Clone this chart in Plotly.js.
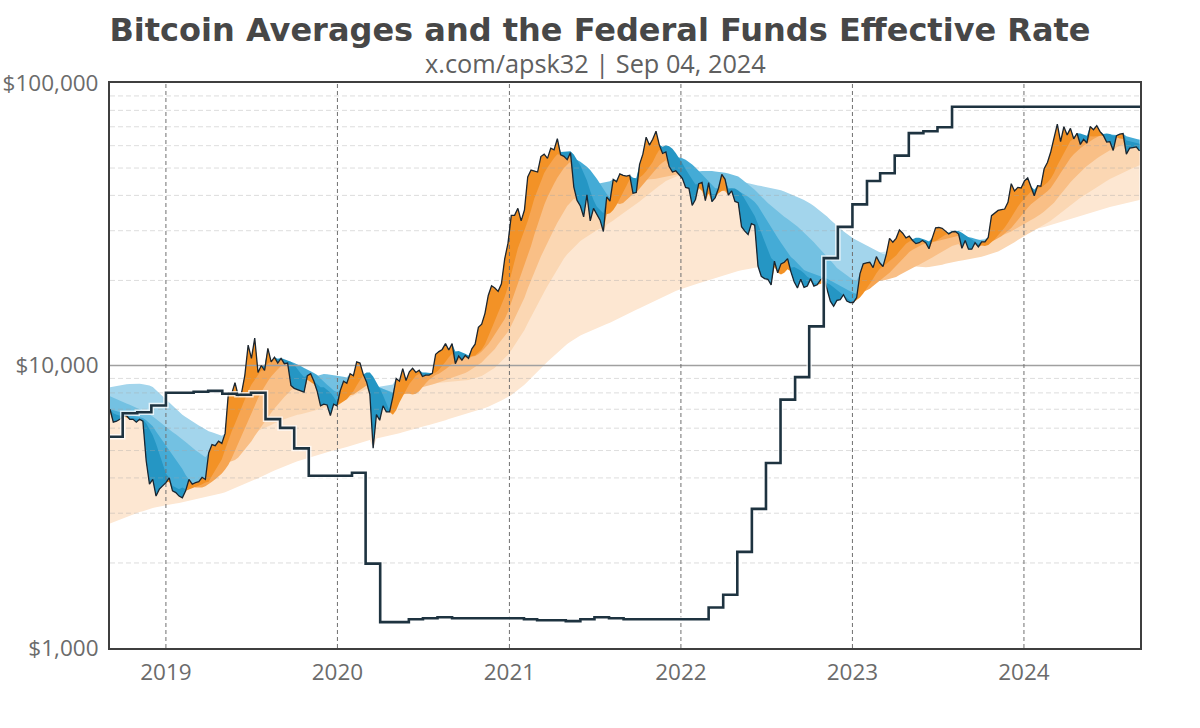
<!DOCTYPE html>
<html><head><meta charset="utf-8">
<script src="https://cdn.plot.ly/plotly-3.0.1.min.js"></script>
<style>html,body{margin:0;padding:0;background:#fff}#chart{width:1200px;height:728px}</style>
</head><body><div id="chart"></div>
<script>
// ---- Weekly samples (Tuesdays) starting 2018-09-04 ----
const START = Date.UTC(2018, 8, 4);

const price = [
 7000,6300,6350,6450, 6600,6650,6450,6450,6300, 6450,6350,4600,3800, 3950,3450,3650,3750,
 3850,4000,3600,3550,3450, 3400,3600,3950,3800, 3850,3880,4020,3950, 4900,5250,5200,5400,5300, 5750,8000,7950,8700, 7800,8000,9250,11800, 10600,12500,9450,10000,9600, 11500,10300,10700,10200, 10600,10150,10200,8500, 8300,8200,8150,8050,9200, 9350,8800,8100,7200, 7300,7250,6650,7300,7200,
 8150,8800,8650,9350, 9200,10300,10200,9300, 8750,7900,5100,6700,6400, 7200,6850,6850,7750, 9000,8800,9750,8850, 9500,9780,9450,9630,9140, 9250,9250,9380,10950, 11200,11400,11950,11350, 11950,10150,10800,10450,10850, 10600,11450,11900,13650, 14000,15300,17700,19150, 18800,18300,19450,23850,27100,
 34000,34000,36000,32500, 35500,46500,49200,48900, 48400,54900,56000,54100,58800, 58000,63500,55700,55000, 53500,56700,42900,38400, 36700,33600,40200,32500,36000, 34200,32700,29800,39500, 38200,45600,44700,47700,47100, 46800,47100,40700,41000, 51500,56000,64300,60300, 63200,67500,60400,56300,57000, 50600,48400,48900,47600,
 46000,42700,42400,36900, 38700,44000,44500,38300, 44400,38000,39300,42400,47500, 45600,40100,41500,38100, 37700,31000,29900,29100,31800, 31400,22500,20700,20300, 20200,19300,23400,21300, 22900,23200,23900,21500,19800, 18800,20200,18900,19100, 20300,19100,19300,20100, 20500,18500,16900,16200,17000, 17100,17800,16900,16700,
 16700,17400,21100,22900,23100, 23200,22200,24300,23100, 22400,24700,28200,27300, 28200,30200,29400,28300, 28700,27700,27000,27200,27700, 27200,25900,28300,30700, 30800,30600,29900,29200, 29700,29800,29200,26000,27700, 25800,25800,27200,26300, 27400,27400,28400,33900,34600, 35400,35600,35800,37800, 44000,41500,42700,42500,
 45000,46100,43100,39900,43300, 43100,49700,52300,57000, 63800,71500,62000,70000, 65500,69100,63400,66400,60600, 63200,61300,70100,68300, 70600,67300,65200,61800, 62000,57700,65100,65900,66200, 56000,58800,59100,59400, 57500
];

const ma50 = [
 6830,6770,6700,6640, 6580,6550,6530,6500,6480, 6450,6430,6250,5950, 5660,5280,4880,4500,
 4150,3880,3750,3700,3650, 3700,3650,3640,3680, 3700,3750,3800,3850, 3880,4070,4270,4470,4660, 5040,5440,5850,6220, 6670,7140,7630,8100, 8560,8920,9270,9630,10000, 10180,10310,10440,10570, 10630,10530,10430,10320, 10070,9700,9370,9110,8900, 8760,8590,8580,8380, 8370,8200,8020,7730,7410,
 7330,7450,7600,7850, 8100,8500,8900,9250, 9450,9450,9150,8750,8300, 7850,7350,6900,6700, 6950,7400,7800,8200, 8600,8900,9200,9350,9450, 9450,9400,9350,9450, 9650,9950,10300,10700, 11000,11200,11250,11150,11000, 10850,10800,10850,11100, 11400,11900,12600,13500, 14400,15300,16300,17500,19000,
 21000,23500,26000,28000, 30000,32500,35500,39000, 41800,45000,48000,50200,52300, 54300,56000,57000,57200, 57300,57300,55800,53500, 51000,48000,45200,41500,38500, 36500,35400,34600,34300, 34600,35500,37000,39000,41300, 43500,45500,46200,46000, 46300,47200,48700,50500, 52500,55500,58000,59500,60200, 59700,58500,56500,54300,
 52000,49500,47500,45300, 43700,42500,41500,40700, 40600,40500,40400,40700,41500, 42000,42300,42400,42300, 41600,40600,38800,37000,35500, 33800,31600,29500,27600, 25800,24000,22300,21300, 21000,21300,21900,22200,22300, 22000,21700,21200,20600, 20000,19600,19500,19500, 19600,19600,19300,18900,18500, 18100,17700,17300,17000,
 16900,17000,17400,18000,18700, 19500,20300,21200,22000, 22700,22900,23300,23900, 24500,25400,26300,27000, 27500,28000,28300,28300,28100, 27800,27500,27400,27600, 28000,28500,29000,29500, 29900,30000,29900,29500,29000, 28500,27900,27400,26900, 26600,26500,26700,27300,28000, 28900,29800,30800,32000, 33500,35000,36500,37800,
 39000,40300,41300,41900,42300, 42600,43400,44400,45800, 48000,51000,53700,56600, 59500,62300,64300,65700,66200, 65800,65000,64800,64600, 64700,65200,66000,66300, 66000,65000,64200,63600,63400, 62600,62200,61700,61200, 60900
];

const ma100 = [
 6990,6940,6880,6820, 6760,6730,6690,6650,6610, 6560,6520,6400,6250, 6090,5840,5620,5440,
 5260,5060,4870,4680,4480, 4300,4100,3920,3760, 3700,3700,3700,3740, 3800,3880,3960,4050,4150, 4280,4450,4700,5000, 5300,5600,5950,6350, 6800,7250,7650,8050,8450, 8800,9150,9450,9700, 9950,10150,10300,10300, 10200,10100,9950,9800,9700, 9550,9400,9250,9000, 8750,8550,8350,8150,8050,
 7950,7900,7850,7850, 7900,8050,8200,8350, 8500,8600,8550,8450,8350, 8250,8150,8050,8000, 7950,7900,7900,7950, 7950,7900,7950,8100,8400, 8650,8900,9100,9250, 9350,9500,9700,9900, 10150,10300,10450,10550,10650, 10700,10750,10800,10950, 11200,11500,11900,12350, 12900,13400,13950,14600,15500,
 16700,18100,19600,21000, 22500,24300,26500,29000, 31600,34200,37000,39500,42000, 44000,46200,48300,50000, 51400,52700,53300,53400, 52600,51700,50500,49200,47600, 45800,44000,42000,40500, 39200,38200,37500,37300,37600, 38500,39500,40500,41200, 42300,43800,45300,46800, 48000,49800,51200,52300,53300, 53800,54200,54400,54500,
 54200,53500,52600,51500, 50200,48800,47400,45900, 44700,43500,42400,41800,41500, 41400,41300,41400,41600, 41500,40900,40300,39600,38800, 37900,36700,35100,33800, 32400,30900,29400,28300, 27200,26100,25100,24200,23700, 23000,22400,21800,21500, 21300,21100,20800,20600, 20500,20300,20000,19700,19400, 19100,18800,18500,18300,
 18100,17900,18000,18200,18400, 18700,19100,19500,19900, 20300,20800,21300,21900, 22500,23200,23900,24600, 25200,25700,26100,26500,26800, 27000,27100,27300,27500, 27700,27900,28100,28300, 28500,28700,28800,28700,28600, 28500,28300,28100,27900, 27700,27500,27400,27500,27800, 28200,28700,29300,29900, 30700,31700,32800,33900,
 35100,36200,37200,38000,38800, 39500,40400,41400,42500, 44000,46000,48000,50200, 52300,54300,56000,57500,58700, 60000,61200,62300,63300, 64300,65100,65600,65800, 65700,65500,65400,65300,65100, 64800,64300,63900,63400, 63000
];

const ma200 = [
 7790,7690,7590,7490, 7400,7330,7260,7180,7110, 7020,6920,6820,6720, 6600,6460,6320,6180,
 6040,5930,5820,5710,5600, 5480,5360,5240,5110, 5010,4920,4820,4730, 4640,4600,4560,4510,4470, 4500,4540,4580,4630, 4720,4880,5050,5220, 5390,5630,5860,6100,6340, 6570,6810,7050,7290, 7530,7740,7950,8180, 8390,8530,8660,8800,8930, 9040,9120,9210,9290, 9340,9310,9280,9250,9210,
 9170,9120,9070,9020, 8970,8940,8900,8870, 8820,8700,8570,8460,8340, 8260,8190,8110,8040, 8030,8060,8090,8120, 8150,8200,8260,8320,8370, 8440,8500,8570,8630, 8710,8800,8900,8990, 9090,9170,9250,9320,9400, 9540,9710,9870,10040, 10250,10550,10840,11150, 11450,11890,12310,12740,13160,
 13850,14680,15560,16440, 17380,18730,20090,21450, 22790,24310,25760,27280,28800, 30380,31990,33590,35260, 36670,37770,38930,40030, 41180,41770,42390,42990,43580, 43930,44190,44420,44680, 44910,45130,45350,45570,45790, 45700,45570,45420,45290, 45270,45340,45420,45490, 45580,45860,46120,46380,46660, 46890,47130,47370,47600,
 47830,48030,48240,48430, 48640,48710,48780,48840, 48910,48770,48640,48510,48380, 48140,47820,47500,47190, 46710,45770,44830,43930,42980, 41900,40800,39640,38540, 37580,36760,35910,35060, 34280,33640,33030,32390,31760, 31040,30300,29560,28780, 28020,27280,26510,25770, 25000,24300,23570,22870,22160, 21660,21240,20850,20430,
 20110,20010,19910,19810,19700, 19730,19780,19830,19880, 20000,20120,20250,20370, 20580,20890,21220,21540, 21850,22150,22440,22740,23040, 23390,23750,24120,24490, 24880,25270,25680,26070, 26480,26700,26920,27140,27350, 27500,27580,27660,27740, 27830,27930,28030,28130,28230, 28490,28780,29080,29370, 29780,30270,30780,31290,
 31770,32260,32730,33210,33700, 34350,35090,35860,36590, 37690,39010,40400,41790, 43110,44500,45840,47170,48550, 49660,50800,51930,53010, 54060,55010,56000,56950, 57860,58580,59260,59970,60680, 61210,61710,62180,62680, 63100
];

const ma365 = [
 8380,8430,8470,8520, 8560,8580,8600,8620,8640, 8620,8580,8540,8500, 8390,8180,7960,7760,
 7540,7360,7190,7010,6840, 6690,6570,6450,6330, 6230,6130,6040,5940, 5850,5800,5750,5690,5640, 5610,5590,5560,5540, 5550,5600,5650,5700, 5750,5820,5880,5950,6010, 6080,6160,6240,6320, 6390,6450,6520,6590, 6650,6690,6720,6760,6790, 6840,6910,6970,7030, 7090,7150,7220,7280,7350,
 7430,7520,7610,7700, 7810,7930,8060,8180, 8260,8300,8340,8380,8410, 8450,8490,8530,8560, 8600,8640,8680,8720, 8750,8760,8760,8760,8770, 8750,8730,8710,8690, 8690,8710,8730,8750, 8770,8780,8800,8810,8830, 8880,8950,9010,9080, 9180,9330,9490,9650, 9810,10090,10360,10640,10910,
 11320,11800,12310,12810, 13350,14110,14880,15640, 16400,17320,18200,19120,20040, 20990,21940,22900,23900, 24750,25440,26160,26850, 27570,28070,28600,29100,29610, 30090,30560,31010,31480, 31980,32630,33280,33900,34560, 35230,35900,36610,37290, 38080,38920,39800,40680, 41520,42400,43250,44090,44970, 45510,46040,46560,47060,
 47410,47530,47650,47770, 47890,47770,47660,47540, 47420,47170,46930,46680,46440, 46160,45850,45560,45260, 44970,44680,44400,44120,43840, 43610,43390,43160,42950, 42710,42480,42240,42000, 41740,41300,40880,40440,39990, 39510,39010,38510,37980, 37380,36680,35950,35250, 34520,33690,32830,32010,31180, 30500,29880,29290,28670,
 28140,27740,27340,26960,26560, 26210,25850,25490,25130, 24800,24480,24160,23850, 23560,23310,23050,22810, 22580,22500,22420,22330,22250, 22280,22340,22410,22470, 22580,22740,22900,23060, 23220,23320,23420,23520,23620, 23730,23860,23980,24110, 24250,24440,24630,24810,25000, 25330,25700,26070,26430, 26860,27330,27810,28300,
 28760,29190,29600,30030,30460, 30940,31460,32010,32530, 33210,33980,34780,35590, 36340,37080,37790,38500,39240, 39920,40640,41350,42040, 42760,43490,44260,44990, 45710,46340,46940,47570,48200, 48780,49390,49970,50580, 51200
];

const ma200w = [
 2760,2790,2820,2850, 2880,2910,2940,2970,3000, 3030,3050,3080,3110, 3130,3150,3160,3180,
 3200,3220,3230,3250,3260, 3280,3300,3320,3340, 3360,3380,3400,3410, 3430,3460,3480,3500,3530, 3560,3600,3630,3670, 3710,3750,3800,3840, 3890,3940,3990,4040,4100, 4150,4200,4250,4300, 4350,4400,4450,4490, 4540,4580,4620,4660,4700, 4740,4780,4820,4860, 4900,4930,4970,5000,5030,
 5070,5110,5150,5190, 5230,5280,5330,5380, 5420,5450,5480,5510,5550, 5580,5610,5650,5680, 5720,5760,5800,5850, 5890,5930,5980,6030,6070, 6120,6160,6200,6250, 6290,6350,6400,6460, 6510,6560,6610,6660,6710, 6770,6820,6880,6930, 6990,7070,7150,7230, 7310,7420,7520,7620,7720,
 7860,8030,8190,8360, 8540,8780,9030,9270, 9510,9780,10030,10300,10560, 10830,11110,11380,11670, 11920,12130,12350,12560, 12780,12940,13100,13260,13420, 13580,13730,13870,14020, 14180,14380,14580,14770,14970, 15170,15360,15560,15760, 15960,16170,16380,16590, 16800,17050,17290,17530,17780, 17970,18170,18370,18560,
 18740,18890,19060,19210, 19370,19550,19730,19900, 20080,20250,20410,20580,20740, 20910,21090,21270,21440, 21600,21730,21850,21970,22090, 22190,22270,22360,22450, 22530,22610,22680,22760, 22830,22910,22990,23070,23150, 23220,23300,23370,23450, 23520,23600,23680,23750, 23830,23900,23980,24050,24120, 24180,24250,24310,24380,
 24440,24520,24610,24690,24770, 24860,24960,25060,25150, 25240,25330,25420,25510, 25600,25700,25810,25900, 26000,26080,26160,26250,26330, 26410,26500,26580,26670, 26760,26860,26960,27060, 27160,27260,27350,27450,27550, 27640,27730,27820,27910, 28010,28120,28230,28340,28450, 28580,28720,28870,29010, 29160,29320,29480,29650,
 29800,29980,30150,30330,30510, 30720,30940,31170,31390, 31640,31920,32210,32500, 32780,33070,33350,33630,33920, 34190,34460,34740,35000, 35280,35550,35830,36100, 36370,36630,36880,37140,37400, 37640,37880,38100,38340, 38560
];

// ---- Federal Funds Effective Rate (monthly, %) ----
const fedMonths = [
 '2018-09','2018-10','2018-11','2018-12',
 '2019-01','2019-02','2019-03','2019-04','2019-05','2019-06','2019-07','2019-08','2019-09','2019-10','2019-11','2019-12',
 '2020-01','2020-02','2020-03','2020-04','2020-05','2020-06','2020-07','2020-08','2020-09','2020-10','2020-11','2020-12',
 '2021-01','2021-02','2021-03','2021-04','2021-05','2021-06','2021-07','2021-08','2021-09','2021-10','2021-11','2021-12',
 '2022-01','2022-02','2022-03','2022-04','2022-05','2022-06','2022-07','2022-08','2022-09','2022-10','2022-11','2022-12',
 '2023-01','2023-02','2023-03','2023-04','2023-05','2023-06','2023-07','2023-08','2023-09','2023-10','2023-11','2023-12',
 '2024-01','2024-02','2024-03','2024-04','2024-05','2024-06','2024-07','2024-08','2024-09-04'
];
const fedRate = [
 1.95,2.19,2.20,2.27,
 2.40,2.40,2.41,2.42,2.39,2.38,2.40,2.13,2.04,1.83,1.55,1.55,
 1.55,1.58,0.65,0.05,0.05,0.08,0.09,0.10,0.09,0.09,0.09,0.09,
 0.09,0.08,0.07,0.07,0.06,0.08,0.10,0.09,0.08,0.08,0.08,0.08,
 0.08,0.08,0.20,0.33,0.77,1.21,1.68,2.33,2.56,3.08,3.78,4.10,
 4.33,4.57,4.65,4.83,5.06,5.08,5.12,5.33,5.33,5.33,5.33,5.33,
 5.33,5.33,5.33,5.33,5.33,5.33,5.33,5.33,5.33
];

// ---- Axis ticks ----
const X_RANGE = ['2018-09-04', '2024-09-04'];
const yearTicks = ['2019-01-01','2020-01-01','2021-01-01','2022-01-01','2023-01-01','2024-01-01'];
const yearLabels = ['2019','2020','2021','2022','2023','2024'];
const yMajor = [1000, 10000, 100000];
const yMajorLabels = ['$1,000', '$10,000', '$100,000'];
const yMinor = [2000,3000,4000,5000,6000,7000,8000,9000,20000,30000,40000,50000,60000,70000,80000,90000];

// ---- checks ----
const series = {price, ma50, ma100, ma200, ma365, ma200w};
const lens = Object.entries(series).map(([k, v]) => k + ':' + v.length);
if (new Set(Object.values(series).map(v => v.length)).size !== 1) throw new Error('length mismatch ' + lens.join(' '));
if (fedMonths.length !== fedRate.length) throw new Error('fed mismatch ' + fedMonths.length + ' ' + fedRate.length);

const dates = price.map((_, i) => new Date(START + i * 7 * 86400000).toISOString().slice(0, 10));

// ---- fills: longest average first (lightest), shortest last (darkest) ----
const bands = [
  {vals: ma200w, orange: '#fde7d2', blue: '#cfe9f5'},
  {vals: ma365,  orange: '#fbd7b3', blue: '#a3d5ec'},
  {vals: ma200,  orange: '#f9bf86', blue: '#73c1e2'},
  {vals: ma100,  orange: '#f6a552', blue: '#44abd6'},
  {vals: ma50,   orange: '#f39226', blue: '#2596c4'}
];
const traces = [];
const base = {x: dates, mode: 'lines', line: {width: 0}, hoverinfo: 'skip', showlegend: false};
bands.forEach(b => {
  const lo = b.vals.map((m, i) => Math.min(m, price[i]));
  const hi = b.vals.map((m, i) => Math.max(m, price[i]));
  traces.push(Object.assign({}, base, {y: lo}));
  traces.push(Object.assign({}, base, {y: price, fill: 'tonexty', fillcolor: b.orange}));
  traces.push(Object.assign({}, base, {y: price}));
  traces.push(Object.assign({}, base, {y: hi, fill: 'tonexty', fillcolor: b.blue}));
});

// ---- grid lines drawn above the fills (as in the reference) ----
const gx = [], gy = [];
yMinor.forEach(v => { gx.push(X_RANGE[0], X_RANGE[1], null); gy.push(v, v, null); });
traces.push({x: gx, y: gy, mode: 'lines', line: {color: 'rgba(165,165,165,0.38)', width: 1, dash: '5px,3px'}, hoverinfo: 'skip', showlegend: false});
const mx = [], my = [];
yMajor.slice(1, 2).forEach(v => { mx.push(X_RANGE[0], X_RANGE[1], null); my.push(v, v, null); });
traces.push({x: mx, y: my, mode: 'lines', line: {color: '#a0a0a0', width: 1.3}, hoverinfo: 'skip', showlegend: false});
const vx = [], vy = [];
yearTicks.forEach(d => { vx.push(d, d, null); vy.push(yMajor[0], yMajor[2], null); });
traces.push({x: vx, y: vy, mode: 'lines', line: {color: '#707070', width: 1, dash: '4px,3px'}, hoverinfo: 'skip', showlegend: false});

// ---- price ----
traces.push({x: dates, y: price, mode: 'lines', line: {color: '#1b2630', width: 1.3}, hoverinfo: 'skip', showlegend: false});

// ---- fed funds rate (secondary, hidden linear axis) ----
traces.push({x: fedMonths, y: fedRate, yaxis: 'y2', mode: 'lines', line: {shape: 'hv', color: 'rgba(255,255,255,0.75)', width: 5.5}, hoverinfo: 'skip', showlegend: false});
traces.push({x: fedMonths, y: fedRate, yaxis: 'y2', mode: 'lines', line: {shape: 'hv', color: '#1e3340', width: 2.6}, hoverinfo: 'skip', showlegend: false});

const tickFont = {family: 'Open Sans', size: 22.5, color: '#6b6b6b'};
const layout = {
  width: 1200, height: 728,
  paper_bgcolor: '#ffffff', plot_bgcolor: '#ffffff',
  margin: {l: 110, r: 60, t: 83, b: 80},
  showlegend: false,
  title: {
    text: 'Bitcoin Averages and the Federal Funds Effective Rate',
    font: {family: 'DejaVu Sans', size: 32, weight: 700, color: '#474747'},
    xref: 'container', x: 0.5, xanchor: 'center',
    yref: 'container', y: 1 - 30 / 728, yanchor: 'middle'
  },
  annotations: [{
    text: 'x.com/apsk32 | Sep 04, 2024',
    xref: 'paper', yref: 'paper', x: (595 - 110) / 1030, y: 1 + (83 - 63) / 565,
    xanchor: 'center', yanchor: 'middle', showarrow: false,
    font: {family: 'Open Sans', size: 25.3, color: '#606060'}
  }],
  xaxis: {
    type: 'date', range: X_RANGE,
    tickvals: yearTicks, ticktext: yearLabels,
    showgrid: false, zeroline: false,
    showline: true, mirror: true, linecolor: '#3f3f3f', linewidth: 2,
    ticks: '', ticklabelstandoff: 3,
    tickfont: tickFont, fixedrange: true
  },
  yaxis: {
    type: 'log', range: [3, 5],
    tickvals: yMajor, ticktext: yMajorLabels,
    showgrid: false, zeroline: false,
    showline: true, mirror: true, linecolor: '#3f3f3f', linewidth: 2,
    ticks: '', ticklabelstandoff: 5,
    tickfont: tickFont, fixedrange: true
  },
  yaxis2: {
    overlaying: 'y', side: 'right', range: [-0.215, 5.574],
    visible: false, showgrid: false, zeroline: false, fixedrange: true
  }
};

Plotly.newPlot('chart', traces, layout, {staticPlot: true, displayModeBar: false});
</script>
</body></html>
